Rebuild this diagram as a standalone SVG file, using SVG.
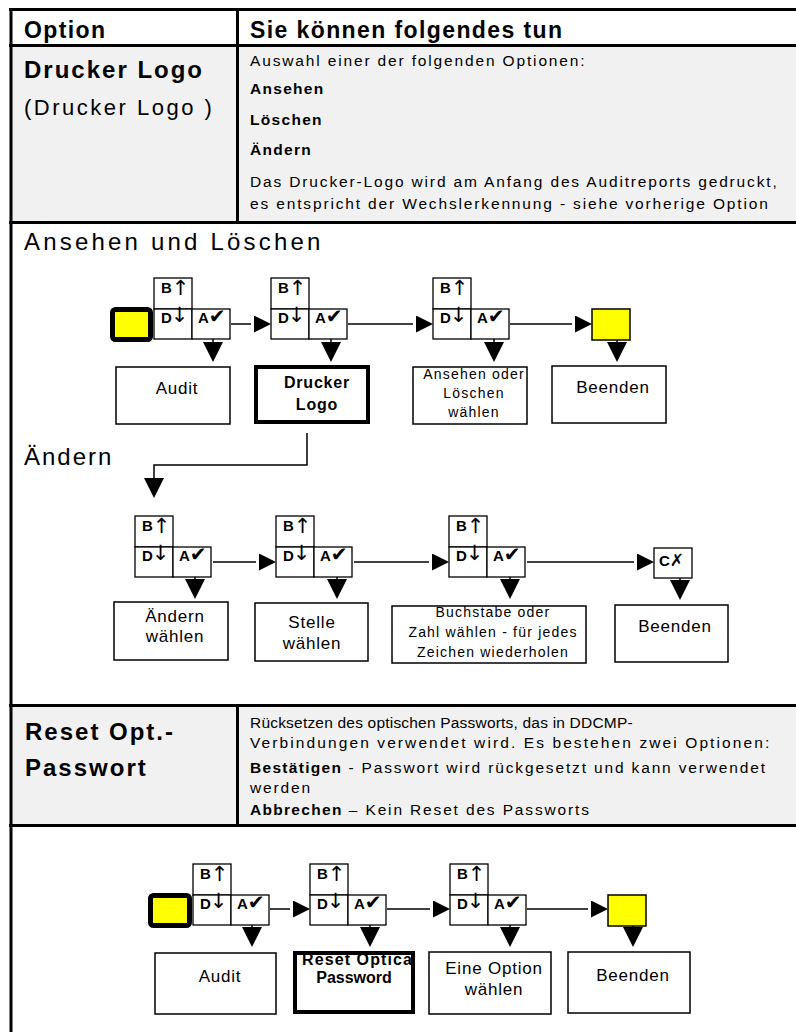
<svg xmlns="http://www.w3.org/2000/svg" width="796" height="1032" viewBox="0 0 796 1032">
  <style>
    text { font-family: "Liberation Sans", Arial, "DejaVu Sans", sans-serif; fill: #000; }
    .rule { stroke: #000; stroke-width: 3; fill: none; }
    .head { font-size: 23px; font-weight: bold; letter-spacing: 1.4px; }
    .title { font-size: 24px; font-weight: bold; letter-spacing: 2px; }
    .sub { font-size: 22px; letter-spacing: 2.5px; }
    .sect { font-size: 24px; letter-spacing: 2px; }
    .body { font-size: 15.5px; letter-spacing: 1.85px; }
    .bold { font-weight: bold; letter-spacing: 1.3px; }
    .cell { fill: #fff; stroke: #000; stroke-width: 1.3; }
    .klbl { font-size: 15px; font-weight: bold; }
    .sym { font-family: "DejaVu Sans", sans-serif; font-weight: normal; font-size: 21px; }
    .chk { font-family: "DejaVu Sans", sans-serif; font-weight: bold; font-size: 20px; }
    .box { fill: #fff; stroke: #000; stroke-width: 1.5; }
    .thick { fill: none; stroke: #000; stroke-width: 4; }
    .bt { font-size: 17px; letter-spacing: 0.8px; text-anchor: middle; }
    .bs { font-size: 14px; letter-spacing: 1.2px; text-anchor: middle; }
    .bb { font-size: 16px; font-weight: bold; letter-spacing: 0.8px; text-anchor: middle; }
    .bbl { font-size: 16px; font-weight: bold; letter-spacing: 1.1px; text-anchor: start; }
    .start { fill: #ffff00; stroke: #000; stroke-width: 5; }
    .end { fill: #ffff00; stroke: #000; stroke-width: 1.5; }
    .conn { stroke: #000; stroke-width: 1.5; fill: none; }
    .h { marker-end: url(#ahr); }
    .d { marker-end: url(#ahd); }
  </style>
  <defs>
    <!-- right-pointing head with a small gap after the line end -->
    <marker id="ahr" markerUnits="userSpaceOnUse" markerWidth="21" markerHeight="17" refX="0" refY="8.5" orient="auto">
      <path d="M3,0 L20,8.5 L3,17 Z" fill="#000"/>
    </marker>
    <!-- downward head under the key cells and boxes -->
    <marker id="ahd" markerUnits="userSpaceOnUse" markerWidth="21" markerHeight="21" refX="0" refY="10" orient="auto">
      <path d="M0,0 L20,10 L0,20 Z" fill="#000"/>
    </marker>
    <!-- three-key cluster: B up, D down, A confirm -->
    <g id="keys">
      <rect class="cell" x="0" y="0" width="38" height="31"/>
      <rect class="cell" x="0" y="31" width="38" height="30"/>
      <rect class="cell" x="38" y="31" width="38" height="30"/>
      <text class="klbl" x="7" y="15">B<tspan class="sym" dx="0" dy="2">↑</tspan></text>
      <text class="klbl" x="7" y="45">D<tspan class="sym" dx="-1" dy="-1">↓</tspan></text>
      <text class="klbl" x="44" y="45">A<tspan class="chk" dx="0">✔</tspan></text>
    </g>
  </defs>

  <!-- table background bands -->
  <rect x="11" y="10" width="785" height="35" fill="#fff"/>
  <rect x="11" y="46" width="785" height="176" fill="#f1f1f1"/>
  <rect x="11" y="223" width="785" height="482" fill="#fff"/>
  <rect x="11" y="706" width="785" height="119" fill="#f1f1f1"/>
  <rect x="11" y="826" width="785" height="206" fill="#fff"/>

  <!-- table rules -->
  <g id="table-rules">
    <line class="rule" x1="9" y1="9.5" x2="796" y2="9.5"/>
    <line class="rule" x1="9" y1="45.5" x2="796" y2="45.5"/>
    <line class="rule" x1="9" y1="222.5" x2="796" y2="222.5"/>
    <line class="rule" x1="9" y1="705.5" x2="796" y2="705.5"/>
    <line class="rule" x1="9" y1="825.5" x2="796" y2="825.5"/>
    <line class="rule" x1="11" y1="8" x2="11" y2="1032" stroke-width="4"/>
    <line class="rule" x1="237.5" y1="9" x2="237.5" y2="223"/>
    <line class="rule" x1="237.5" y1="705" x2="237.5" y2="826"/>
  </g>

  <!-- header row -->
  <g id="header">
    <text class="head" x="24" y="38">Option</text>
    <text class="head" x="250" y="38">Sie können folgendes tun</text>
  </g>

  <!-- Drucker Logo row -->
  <g id="row-drucker-logo">
    <text class="title" x="24" y="78">Drucker Logo</text>
    <text class="sub" x="24" y="115">(Drucker Logo )</text>
    <text class="body" x="250" y="66">Auswahl einer der folgenden Optionen:</text>
    <text class="body bold" x="250" y="94">Ansehen</text>
    <text class="body bold" x="250" y="125">Löschen</text>
    <text class="body bold" x="250" y="155">Ändern</text>
    <text class="body" x="250" y="187">Das Drucker-Logo wird am Anfang des Auditreports gedruckt,</text>
    <text class="body" x="250" y="209">es entspricht der Wechslerkennung - siehe vorherige Option</text>
  </g>

  <text class="sect" x="24" y="250" style="letter-spacing:3.2px">Ansehen und Löschen</text>
  <text class="sect" x="24" y="465">Ändern</text>

  <!-- connectors -->
  <g id="connectors">
    <!-- view / delete flow -->
    <line class="conn h" x1="231" y1="324" x2="251" y2="324"/>
    <line class="conn h" x1="348" y1="324" x2="413" y2="324"/>
    <line class="conn h" x1="510" y1="324" x2="572" y2="324"/>
    <line class="conn d" x1="213" y1="339" x2="213" y2="342"/>
    <line class="conn d" x1="331" y1="339" x2="331" y2="342"/>
    <line class="conn d" x1="494" y1="339" x2="494" y2="342"/>
    <line class="conn d" x1="617" y1="339" x2="617" y2="342"/>
    <polyline class="conn d" points="307,433 307,465 154,465 154,478"/>
    <!-- edit flow -->
    <line class="conn h" x1="213" y1="562" x2="256" y2="562"/>
    <line class="conn h" x1="354" y1="562" x2="429" y2="562"/>
    <line class="conn h" x1="527" y1="562" x2="634" y2="562"/>
    <line class="conn d" x1="195" y1="577" x2="195" y2="579"/>
    <line class="conn d" x1="337" y1="577" x2="337" y2="579"/>
    <line class="conn d" x1="510" y1="577" x2="510" y2="579"/>
    <line class="conn d" x1="680" y1="578" x2="680" y2="580"/>
    <!-- password reset flow -->
    <line class="conn h" x1="270" y1="909" x2="290" y2="909"/>
    <line class="conn h" x1="387" y1="909" x2="430" y2="909"/>
    <line class="conn h" x1="527" y1="909" x2="588" y2="909"/>
    <line class="conn d" x1="252" y1="925" x2="252" y2="927"/>
    <line class="conn d" x1="370" y1="925" x2="370" y2="927"/>
    <line class="conn d" x1="510" y1="925" x2="510" y2="927"/>
    <line class="conn d" x1="633" y1="926" x2="633" y2="927"/>
  </g>

  <!-- view / delete flow nodes -->
  <g id="start-1"><rect class="start" x="112.5" y="309.5" width="38" height="30" rx="3"/></g>
  <g id="keys-1a"><use href="#keys" x="154" y="278"/></g>
  <g id="keys-1b"><use href="#keys" x="271" y="278"/></g>
  <g id="keys-1c"><use href="#keys" x="433" y="278"/></g>
  <g id="end-1"><rect class="end" x="592" y="309" width="38" height="31"/></g>
  <g id="audit-1">
    <rect class="box" x="116" y="367" width="114" height="57"/>
    <text class="bt" x="177" y="394">Audit</text>
  </g>
  <g id="drucker-logo">
    <rect fill="#fff" x="256" y="367" width="112" height="55"/>
    <rect class="thick" x="256" y="367" width="112" height="55"/>
    <text class="bb" x="317" y="388">Drucker</text>
    <text class="bb" x="317" y="410">Logo</text>
  </g>
  <g id="view-delete">
    <rect class="box" x="413" y="367" width="114" height="57"/>
    <text class="bs" x="474" y="379">Ansehen oder</text>
    <text class="bs" x="474" y="398">Löschen</text>
    <text class="bs" x="474" y="417">wählen</text>
  </g>
  <g id="exit-1">
    <rect class="box" x="552" y="366" width="114" height="57"/>
    <text class="bt" x="613" y="393">Beenden</text>
  </g>

  <!-- edit flow nodes -->
  <g id="keys-2a"><use href="#keys" x="135" y="516"/></g>
  <g id="keys-2b"><use href="#keys" x="276" y="516"/></g>
  <g id="keys-2c"><use href="#keys" x="449" y="516"/></g>
  <g id="cancel-key">
    <rect class="cell" x="654" y="548" width="38" height="30"/>
    <text class="klbl" x="659" y="566">C<tspan class="chk" style="font-size:17px">✗</tspan></text>
  </g>
  <g id="edit-select">
    <rect class="box" x="114" y="602" width="114" height="58"/>
    <text class="bt" x="175" y="622">Ändern</text>
    <text class="bt" x="175" y="642">wählen</text>
  </g>
  <g id="position-select">
    <rect class="box" x="255" y="603" width="113" height="58"/>
    <text class="bt" x="312" y="628">Stelle</text>
    <text class="bt" x="312" y="649">wählen</text>
  </g>
  <g id="char-select">
    <rect class="box" x="392" y="606" width="194" height="57"/>
    <text class="bs" x="493" y="617">Buchstabe oder</text>
    <text class="bs" x="493" y="637">Zahl wählen - für jedes</text>
    <text class="bs" x="493" y="657">Zeichen wiederholen</text>
  </g>
  <g id="exit-2">
    <rect class="box" x="615" y="605" width="113" height="57"/>
    <text class="bt" x="675" y="632">Beenden</text>
  </g>

  <!-- Reset Opt.-Passwort row -->
  <g id="row-reset-password">
    <text class="title" x="25" y="740">Reset Opt.-</text>
    <text class="title" x="25" y="776">Passwort</text>
    <text class="body" x="250" y="728" style="letter-spacing:0.2px">Rücksetzen des optischen Passworts, das in DDCMP-</text>
    <text class="body" x="250" y="748" style="letter-spacing:2.1px">Verbindungen verwendet wird. Es bestehen zwei Optionen:</text>
    <text class="body" x="250" y="773"><tspan class="bold">Bestätigen</tspan> - Passwort wird rückgesetzt und kann verwendet</text>
    <text class="body" x="250" y="793">werden</text>
    <text class="body" x="250" y="815"><tspan class="bold">Abbrechen</tspan> – Kein Reset des Passworts</text>
  </g>

  <!-- password reset flow nodes -->
  <g id="start-3"><rect class="start" x="150.5" y="895.5" width="39" height="30" rx="3"/></g>
  <g id="keys-3a"><use href="#keys" x="193" y="864"/></g>
  <g id="keys-3b"><use href="#keys" x="310" y="864"/></g>
  <g id="keys-3c"><use href="#keys" x="450" y="864"/></g>
  <g id="end-3"><rect class="end" x="608" y="895" width="38" height="31"/></g>
  <g id="audit-3">
    <rect class="box" x="155" y="953" width="121" height="61"/>
    <text class="bt" x="220" y="982">Audit</text>
  </g>
  <g id="reset-optical">
    <rect fill="#fff" x="295" y="953" width="118" height="59"/>
    <text class="bbl" x="302" y="965">Reset Optica</text>
    <text class="bb" x="354" y="983" style="letter-spacing:0">Password</text>
    <rect class="thick" x="295" y="953" width="118" height="59"/>
  </g>
  <g id="option-select">
    <rect class="box" x="429" y="952" width="122" height="62"/>
    <text class="bt" x="494" y="974">Eine Option</text>
    <text class="bt" x="494" y="995">wählen</text>
  </g>
  <g id="exit-3">
    <rect class="box" x="568" y="952" width="122" height="61"/>
    <text class="bt" x="633" y="981">Beenden</text>
  </g>
</svg>
